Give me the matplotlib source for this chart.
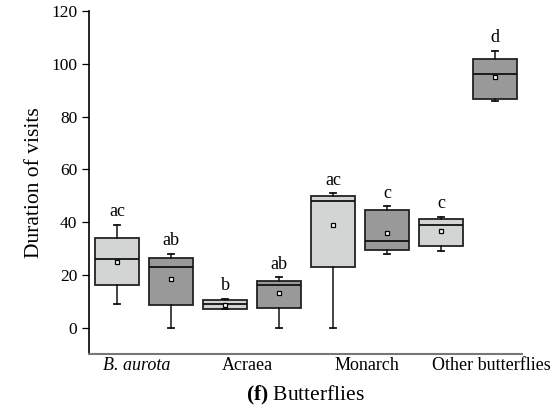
import numpy as np
import matplotlib.pyplot as plt

plt.rcParams['font.family'] = ['Liberation Serif', 'DejaVu Serif']
plt.rcParams['mathtext.fontset'] = 'custom'
plt.rcParams['mathtext.rm'] = 'Liberation Serif'
plt.rcParams['mathtext.bf'] = 'Liberation Serif:bold'

groups = ["B. aurota", "Acraea", "Monarch", "Other butterflies"]
letters = ["ac", "ab", "b", "ab", "ac", "c", "c", "d"]
whislo = [9, 0, 7, 0, 0, 28, 29, 86]
q1 = [16, 8.5, 7, 7.5, 23, 29.5, 31, 86.5]
med = [26, 23, 9, 16, 48, 33, 39, 96]
q3 = [34, 26.5, 10.5, 17.5, 50, 44.5, 41, 102]
whishi = [39, 28, 11, 19, 51, 46, 42, 105]
means = [25, 18.5, 8.7, 13, 39, 36, 36.5, 95]
shades = ["#d3d5d5", "#999999", "#d3d5d5", "#999999",
          "#d3d5d5", "#999999", "#d3d5d5", "#999999"]

fig = plt.figure(figsize=(5.55, 4.09), dpi=100)
ax = fig.add_axes([0.1604, 0.1345, 0.7801, 0.8385])

stats = []
for i in range(len(med)):
    stats.append(dict(whislo=whislo[i], q1=q1[i], med=med[i], q3=q3[i],
                      whishi=whishi[i], mean=means[i], fliers=[]))

pos = np.arange(1, len(med) + 1)
bp = ax.bxp(stats, positions=pos, widths=0.81, patch_artist=True,
            showmeans=True, capwidths=0.11,
            boxprops=dict(edgecolor="#222222", linewidth=1.3),
            medianprops=dict(color="#111111", linewidth=1.3),
            whiskerprops=dict(color="#111111", linewidth=1.1),
            capprops=dict(color="#111111", linewidth=1.3),
            meanprops=dict(marker="s", markerfacecolor="white",
                           markeredgecolor="black", markersize=3.5,
                           markeredgewidth=0.9))
for patch, c in zip(bp["boxes"], shades):
    patch.set_facecolor(c)

for p, top, lab in zip(pos, whishi, letters):
    ax.annotate(lab, (p, top), xytext=(0, 6), textcoords="offset points",
                ha="center", va="baseline", fontsize=13)

ax.set_xlim(0.48, 8.5)
ax.set_ylim(-10, 120)
ax.set_yticks([0, 20, 40, 60, 80, 100, 120])
ax.tick_params(axis="y", labelsize=12.5, length=5, width=0.9)
ax.set_xticks([1.37, 3.41, 5.63, 7.93])
ax.set_xticklabels(groups, fontsize=13)
ax.get_xticklabels()[0].set_style("italic")
ax.tick_params(axis="x", length=0, pad=2)
ax.spines["top"].set_visible(False)
ax.spines["right"].set_visible(False)
ax.spines["bottom"].set_color("#777777")
ax.spines["bottom"].set_linewidth(1.5)
ax.spines["left"].set_linewidth(1.2)
ax.set_ylabel("Duration of visits", fontsize=15.5, labelpad=5)
ax.set_xlabel(r"$\mathbf{(f)}$ Butterflies", fontsize=15.5, labelpad=7)

fig.savefig("out.png", dpi=100)
